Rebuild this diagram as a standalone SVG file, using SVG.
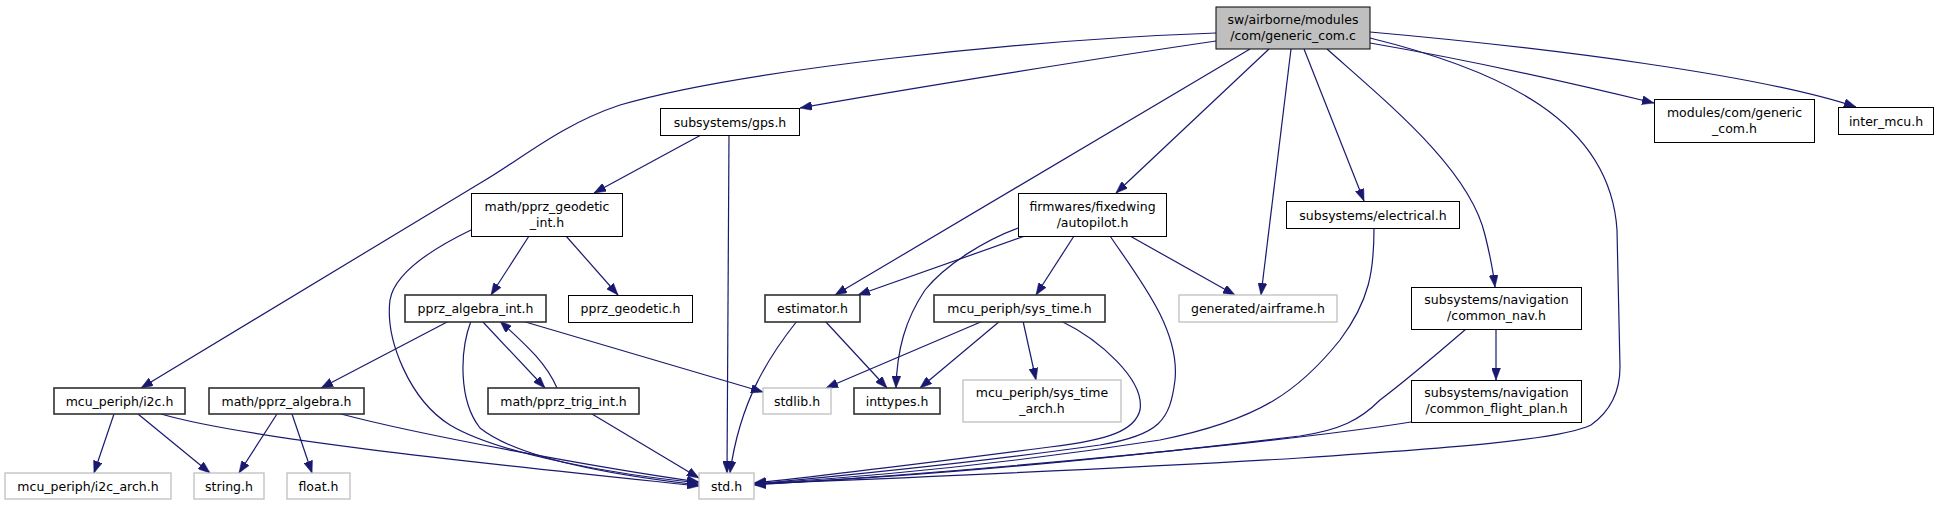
<svg xmlns="http://www.w3.org/2000/svg" width="1943" height="507" viewBox="0 0 1943 507">
<style>
.n rect{fill:#fff;stroke:#000;stroke-width:1}
.n.k rect{stroke:#303030;stroke-width:1.6}
.n.g rect{stroke:#bfbfbf;stroke-width:1.3}
.n.r rect{fill:#bfbfbf}
.n text{font-family:"DejaVu Sans","Liberation Sans",sans-serif;font-size:12.5px;text-anchor:middle;fill:#000}
#edges path{fill:none;stroke:#191970;stroke-width:1.2;marker-end:url(#ah)}
</style>
<defs>
<marker id="ah" viewBox="0 0 12 9" refX="12" refY="4.5" markerWidth="12" markerHeight="9" markerUnits="userSpaceOnUse" orient="auto">
<path d="M0,0 L12,4.5 L0,9 z" fill="#191970" stroke="#191970" stroke-width="0.5"/>
</marker>
</defs>
<rect width="1943" height="507" fill="#fff"/>
<g id="edges">
<path d="M1216,33 C1020,40 740,70 620,105 C560,125 520,160 482,182 L141,388"/>
<path d="M1216,41 C1100,58 900,90 800,108"/>
<path d="M1250,49 L835,295"/>
<path d="M1269,49 L1116,193"/>
<path d="M1291,49 L1261,295"/>
<path d="M1304,49 L1364,201"/>
<path d="M1327,49 C1390,105 1470,170 1485,235 C1490,255 1493,270 1495,287"/>
<path d="M1370,38 C1500,70 1610,120 1617,230 L1620,367 C1620,390 1612,410 1591,425 C1560,440 1450,448 1300,458 C1100,470 900,478 754,484"/>
<path d="M1370,43 C1480,62 1580,85 1654,103"/>
<path d="M1370,32 C1550,48 1760,75 1856,107"/>
<path d="M701,135 L594,193"/>
<path d="M729,135 L727,473"/>
<path d="M529,236 L491,295"/>
<path d="M566,236 L618,295"/>
<path d="M471,230 C440,245 395,270 390,300 C385,340 410,400 450,425 C500,455 620,475 699,483"/>
<path d="M449,321 L321,388"/>
<path d="M482,321 L545,388"/>
<path d="M557,388 C545,360 520,340 500,321"/>
<path d="M522,321 L763,392"/>
<path d="M471,321 C460,350 458,400 480,428 C520,460 620,476 699,485"/>
<path d="M592,414 L699,478"/>
<path d="M277,414 L239,473"/>
<path d="M292,414 L312,473"/>
<path d="M341,414 C420,435 600,468 699,482"/>
<path d="M114,414 L94,473"/>
<path d="M138,414 L210,473"/>
<path d="M161,414 C250,440 500,465 699,486"/>
<path d="M1025,236 L858,295"/>
<path d="M1018,228 C985,240 945,265 925,290 C905,320 897,350 896,388"/>
<path d="M1074,236 L1036,295"/>
<path d="M1130,236 L1235,295"/>
<path d="M1110,236 C1140,280 1180,330 1175,380 C1170,420 1160,435 1100,445 C980,462 850,475 754,484"/>
<path d="M797,321 C770,355 740,400 730,473"/>
<path d="M825,321 L887,388"/>
<path d="M983,321 L826,388"/>
<path d="M1000,321 L920,388"/>
<path d="M1023,321 L1036,380"/>
<path d="M1061,321 C1100,340 1145,380 1140,410 C1135,430 1110,440 1050,447 C950,460 830,475 754,483"/>
<path d="M1374,228 C1374,270 1370,300 1340,340 C1300,390 1260,420 1160,440 C1000,465 850,478 754,484"/>
<path d="M1466,329 C1430,360 1400,385 1380,400 C1360,420 1340,430 1300,436 C1100,460 900,478 754,484"/>
<path d="M1496,329 L1496,380"/>
<path d="M1411,422 C1300,440 1000,470 754,485"/>
</g>
<g id="root" class="n r"><rect x="1216" y="7" width="154" height="42"/><text x="1293" y="24">sw/airborne/modules</text><text x="1293" y="40">/com/generic_com.c</text></g>
<g id="gps" class="n"><rect x="660.5" y="108.5" width="139" height="27"/><text x="730" y="126.5">subsystems/gps.h</text></g>
<g id="generic_com_h" class="n"><rect x="1654.5" y="99.5" width="160" height="43"/><text x="1734.5" y="117">modules/com/generic</text><text x="1734.5" y="133">_com.h</text></g>
<g id="inter_mcu" class="n"><rect x="1838.5" y="107.5" width="95" height="27"/><text x="1886" y="125.5">inter_mcu.h</text></g>
<g id="geodetic_int" class="n"><rect x="471.5" y="193.5" width="151" height="43"/><text x="547" y="211">math/pprz_geodetic</text><text x="547" y="227">_int.h</text></g>
<g id="autopilot" class="n"><rect x="1018.5" y="193.5" width="148" height="43"/><text x="1092.5" y="211">firmwares/fixedwing</text><text x="1092.5" y="227">/autopilot.h</text></g>
<g id="electrical" class="n"><rect x="1286.5" y="201.5" width="173" height="27"/><text x="1373" y="219.5">subsystems/electrical.h</text></g>
<g id="algebra_int" class="n k"><rect x="405" y="295" width="141" height="27"/><text x="475.5" y="312.5">pprz_algebra_int.h</text></g>
<g id="geodetic_h" class="n"><rect x="568.5" y="295.5" width="124" height="27"/><text x="630.5" y="312.5">pprz_geodetic.h</text></g>
<g id="estimator" class="n k"><rect x="765" y="295" width="95" height="27"/><text x="812.5" y="312.5">estimator.h</text></g>
<g id="sys_time" class="n k"><rect x="934" y="295" width="171" height="27"/><text x="1019.5" y="312.5">mcu_periph/sys_time.h</text></g>
<g id="airframe" class="n g"><rect x="1179" y="295" width="158" height="27"/><text x="1258" y="312.5">generated/airframe.h</text></g>
<g id="common_nav" class="n"><rect x="1411.5" y="287.5" width="170" height="42"/><text x="1496.5" y="304">subsystems/navigation</text><text x="1496.5" y="320">/common_nav.h</text></g>
<g id="i2c" class="n k"><rect x="54" y="388" width="131" height="26"/><text x="119.5" y="405.5">mcu_periph/i2c.h</text></g>
<g id="algebra" class="n k"><rect x="209" y="388" width="155" height="26"/><text x="286.5" y="405.5">math/pprz_algebra.h</text></g>
<g id="trig_int" class="n k"><rect x="488" y="388" width="151" height="26"/><text x="563.5" y="405.5">math/pprz_trig_int.h</text></g>
<g id="stdlib" class="n g"><rect x="763" y="388" width="68" height="26"/><text x="797" y="405.5">stdlib.h</text></g>
<g id="inttypes" class="n k"><rect x="854" y="388" width="86" height="26"/><text x="897" y="405.5">inttypes.h</text></g>
<g id="sys_time_arch" class="n g"><rect x="963" y="380" width="158" height="42"/><text x="1042" y="397">mcu_periph/sys_time</text><text x="1042" y="413">_arch.h</text></g>
<g id="flight_plan" class="n"><rect x="1411.5" y="380.5" width="170" height="42"/><text x="1496.5" y="397">subsystems/navigation</text><text x="1496.5" y="413">/common_flight_plan.h</text></g>
<g id="i2c_arch" class="n g"><rect x="5" y="473" width="166" height="26"/><text x="88" y="490.5">mcu_periph/i2c_arch.h</text></g>
<g id="string" class="n g"><rect x="194" y="473" width="70" height="26"/><text x="229" y="490.5">string.h</text></g>
<g id="float" class="n g"><rect x="287" y="473" width="63" height="26"/><text x="318.5" y="490.5">float.h</text></g>
<g id="std" class="n g"><rect x="699" y="473" width="55" height="26"/><text x="726.5" y="490.5">std.h</text></g>
</svg>
